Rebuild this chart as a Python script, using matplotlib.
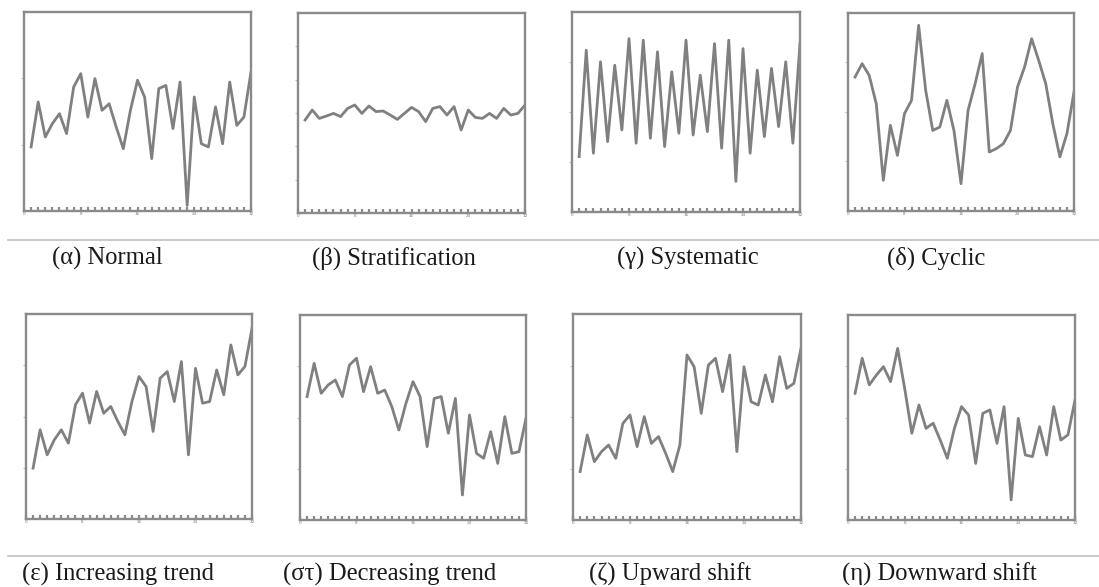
import matplotlib.pyplot as plt
from matplotlib.lines import Line2D

# sample index 1..32 on every chart
samples = list(range(1, 33))

normal = [32.2, 54.8, 37.2, 43.9, 48.9, 38.9, 62.3, 69.0, 47.2, 66.5, 50.6, 53.9,
          42.2, 31.3, 50.6, 65.7, 57.3, 26.3, 61.5, 63.1, 41.4, 64.8, 2.8, 57.3,
          33.8, 32.2, 52.3, 33.8, 64.8, 43.0, 47.2, 69.8]
stratification = [46.5, 51.5, 47.3, 48.5, 49.8, 48.2, 52.3, 54.0, 49.8, 53.5, 50.7, 51.0,
                  49.0, 46.8, 49.8, 52.8, 50.7, 45.7, 52.3, 53.2, 49.0, 53.2, 41.5, 51.5,
                  47.8, 47.3, 49.8, 47.3, 52.3, 49.0, 49.8, 54.0]
systematic = [27.7, 80.9, 29.4, 75.1, 35.2, 73.4, 41.0, 86.7, 34.4, 85.9, 36.9, 80.1,
              32.7, 70.1, 39.4, 85.9, 38.5, 68.4, 40.2, 84.2, 31.9, 85.9, 15.3, 81.7,
              29.4, 70.9, 37.7, 71.8, 42.7, 75.1, 34.4, 84.2]
cyclic = [67.7, 74.4, 68.5, 54.2, 15.5, 43.3, 28.1, 49.2, 55.9, 93.8, 60.9, 40.7,
          42.4, 55.9, 40.7, 13.8, 50.8, 64.3, 79.5, 29.8, 31.5, 34.0, 40.7, 62.6,
          72.7, 87.0, 76.1, 64.3, 44.1, 27.3, 39.1, 60.1]
increasing = [24.8, 43.5, 31.3, 38.6, 43.5, 37.0, 55.7, 61.4, 46.8, 62.2, 51.6, 54.9,
              47.6, 41.1, 57.3, 69.5, 64.6, 42.7, 68.7, 71.9, 57.3, 76.8, 31.3, 73.5,
              56.5, 57.3, 72.7, 60.6, 84.9, 70.3, 74.4, 93.0]
decreasing = [60.2, 76.4, 61.8, 65.9, 68.3, 60.2, 75.6, 78.9, 62.6, 74.8, 61.8, 63.4,
              55.3, 43.9, 56.9, 67.5, 60.2, 35.8, 59.3, 60.2, 42.3, 59.3, 12.2, 51.2,
              32.5, 30.1, 43.1, 27.6, 50.4, 32.5, 33.3, 49.6]
upward = [23.5, 41.3, 28.3, 33.2, 36.4, 29.9, 46.9, 51.0, 35.6, 50.2, 37.2, 40.5,
          32.4, 23.5, 36.4, 80.1, 74.4, 51.8, 75.2, 78.5, 62.3, 80.1, 33.2, 74.4,
          57.4, 55.8, 70.4, 57.4, 79.3, 63.9, 66.3, 83.3]
downward = [61.8, 78.9, 65.9, 70.7, 74.8, 67.5, 83.7, 64.0, 42.3, 56.1, 44.7, 47.2,
            39.0, 30.1, 44.7, 55.3, 51.2, 27.6, 52.0, 53.7, 37.4, 55.3, 9.8, 49.6,
            31.7, 30.9, 45.5, 31.7, 55.3, 39.0, 41.5, 58.5]

captions = ["(α) Normal", "(β) Stratification", "(γ) Systematic", "(δ) Cyclic",
            "(ε) Increasing trend", "(στ) Decreasing trend", "(ζ) Upward shift",
            "(η) Downward shift"]
series = [normal, stratification, systematic, cyclic,
          increasing, decreasing, upward, downward]
ytick_sets = [[33.3, 66.7], [16.7, 33.3, 50, 66.7, 83.3], [25, 50, 75], [25, 50, 75],
              [25, 50, 75], [25, 50, 75], [25, 50, 75], [25, 50, 75]]

W, H = 1099, 587
# panel boxes in pixels: left, top, right, bottom
boxes = [(24, 12, 251, 211), (298, 13, 525, 213), (572, 12, 800, 212), (848, 13, 1074, 211),
         (26, 314, 252, 519), (300, 315, 526, 520), (573, 314, 801, 520), (848, 315, 1075, 520)]
caption_pos = [(52, 265), (312, 265), (617, 265), (887, 265),
               (22, 581), (283, 581), (589, 581), (842, 581)]

fig = plt.figure(figsize=(W / 100, H / 100), dpi=100)
fig.patch.set_facecolor("white")

line_col = "#808080"
for i, vals in enumerate(series):
    l, t, r, b = boxes[i]
    ax = fig.add_axes([l / W, 1 - b / H, (r - l) / W, (b - t) / H])
    ax.plot(samples, vals, color=line_col, lw=2.0)
    ax.set_xlim(0, 32)
    ax.set_ylim(0, 100)
    for s in ax.spines.values():
        s.set_color("#8a8a8a")
        s.set_linewidth(1.7)
    ax.set_xticks([0, 8, 16, 24, 32])
    ax.set_xticklabels(["0", "8", "16", "24", "32"], fontsize=3, color="#777777")
    ax.set_xticks(range(0, 33), minor=True)
    ax.tick_params(axis="x", which="both", direction="in", length=3, width=1.6,
                   color="#8a8a8a", pad=1)
    ax.set_yticks(ytick_sets[i])
    ax.set_yticklabels([])
    ax.tick_params(axis="y", direction="out", length=2, width=0.8, color="#bbbbbb")

    fig.text(caption_pos[i][0] / W, 1 - caption_pos[i][1] / H, captions[i],
             fontsize=17.7, family=["Liberation Serif", "DejaVu Serif"],
             color="#1a1a1a", va="baseline", ha="left")

# separator rules under each row of charts
for yy in (240, 556):
    fig.add_artist(Line2D([8 / W, 1], [1 - yy / H, 1 - yy / H],
                          color="#c0c0c0", lw=1.2, transform=fig.transFigure))

fig.savefig("out.png", dpi=100)
